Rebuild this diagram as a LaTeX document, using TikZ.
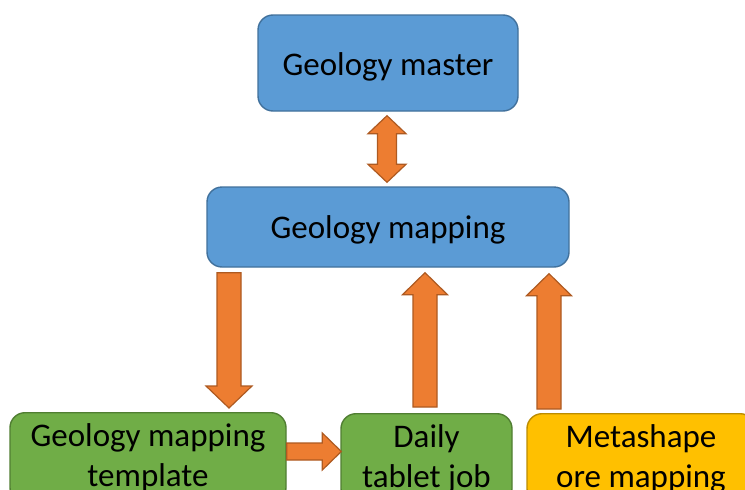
\documentclass[tikz,border=0pt]{standalone}
\usepackage{fontspec}
\setmainfont{Carlito}
\usetikzlibrary{calc}
\definecolor{bfill}{HTML}{5B9BD5}
\definecolor{bdraw}{HTML}{41719C}
\definecolor{gfill}{HTML}{70AD47}
\definecolor{gdraw}{HTML}{507E32}
\definecolor{yfill}{HTML}{FFC000}
\definecolor{ydraw}{HTML}{BC8C00}
\definecolor{ofill}{HTML}{ED7D31}
\definecolor{odraw}{HTML}{AE5A21}
\tikzset{
  box/.style={rounded corners=15pt, line width=1.4pt, align=center, inner sep=0pt,
    font=\fontsize{33}{40}\selectfont, text=black},
  bluebox/.style={box, fill=bfill, draw=bdraw, text depth=0pt},
  greenbox/.style={box, fill=gfill, draw=gdraw, minimum height=90pt, anchor=north},
  yellowbox/.style={box, fill=yfill, draw=ydraw, minimum height=90pt, anchor=north},
  % single fat arrow: #1 shaft half width, #2 head half width, #3 head length
  fat/.style n args={3}{fill=ofill, draw=odraw, line width=1.2pt, line join=miter,
    to path={($(\tikztostart)!#1!90:(\tikztotarget)$)
      -- ($(\tikztotarget)!#3!(\tikztostart)!#1!-90:(\tikztostart)$)
      -- ($(\tikztotarget)!#3!(\tikztostart)!#2!-90:(\tikztostart)$)
      -- (\tikztotarget)
      -- ($(\tikztotarget)!#3!(\tikztostart)!#2!90:(\tikztostart)$)
      -- ($(\tikztotarget)!#3!(\tikztostart)!#1!90:(\tikztostart)$)
      -- ($(\tikztostart)!#1!-90:(\tikztotarget)$) -- cycle}},
  % double fat arrow
  fatboth/.style n args={3}{fill=ofill, draw=odraw, line width=1.2pt, line join=miter,
    to path={(\tikztostart)
      -- ($(\tikztostart)!#3!(\tikztotarget)!#2!90:(\tikztotarget)$)
      -- ($(\tikztostart)!#3!(\tikztotarget)!#1!90:(\tikztotarget)$)
      -- ($(\tikztotarget)!#3!(\tikztostart)!#1!-90:(\tikztostart)$)
      -- ($(\tikztotarget)!#3!(\tikztostart)!#2!-90:(\tikztostart)$)
      -- (\tikztotarget)
      -- ($(\tikztotarget)!#3!(\tikztostart)!#2!90:(\tikztostart)$)
      -- ($(\tikztotarget)!#3!(\tikztostart)!#1!90:(\tikztostart)$)
      -- ($(\tikztostart)!#3!(\tikztotarget)!#1!-90:(\tikztotarget)$)
      -- ($(\tikztostart)!#3!(\tikztotarget)!#2!-90:(\tikztotarget)$) -- cycle}}
}
\begin{document}
\begin{tikzpicture}[x=1pt, y=-1pt]
\useasboundingbox (0,0) rectangle (745,490);
\clip (0,0) rectangle (745,490);
\fill[white] (0,0) rectangle (745,490);

\node[bluebox, minimum width=260pt, minimum height=96pt, text height=24pt] (gmaster) at (388,63) {Geology master};
\node[bluebox, minimum width=362pt, minimum height=80pt, text height=22pt] (gmap) at (388,227) {Geology mapping};
\node[greenbox, minimum width=276pt] (tmpl) at (148,412) {Geology mapping\\template};
\node[greenbox, minimum width=171pt] (daily) at (426.5,413) {Daily\\tablet job};
\node[yellowbox, minimum width=228pt] (meta) at (641,413) {Metashape\\ore mapping};

% arrow end points
\coordinate (dbA) at ($(387,0 |- gmaster.south)+(0,4)$);
\coordinate (dbB) at ($(387,0 |- gmap.north)+(0,-4)$);
\coordinate (dnA) at ($(229,0 |- gmap.south)+(0,5)$);
\coordinate (dnB) at ($(229,0 |- tmpl.north)+(0,-4)$);
\coordinate (u1A) at ($(425,0 |- daily.north)+(0,-6)$);
\coordinate (u1B) at ($(425,0 |- gmap.south)+(0,5)$);
\coordinate (u2A) at ($(549,0 |- meta.north)+(0,-4)$);
\coordinate (u2B) at ($(549,0 |- gmap.south)+(0,6)$);
\coordinate (rA) at (tmpl.east |- 0,451.5);
\coordinate (rB) at ($(daily.west |- 0,451.5)+(1,0)$);

\draw[fatboth={9.5pt}{19pt}{18pt}] (dbA) to (dbB);
\draw[fat={12pt}{23pt}{22pt}] (dnA) to (dnB);
\draw[fat={12pt}{22.5pt}{22pt}] (u1A) to (u1B);
\draw[fat={12pt}{22.5pt}{22pt}] (u2A) to (u2B);
\draw[fat={8.5pt}{18.5pt}{19pt}] (rA) to (rB);
\end{tikzpicture}
\end{document}
